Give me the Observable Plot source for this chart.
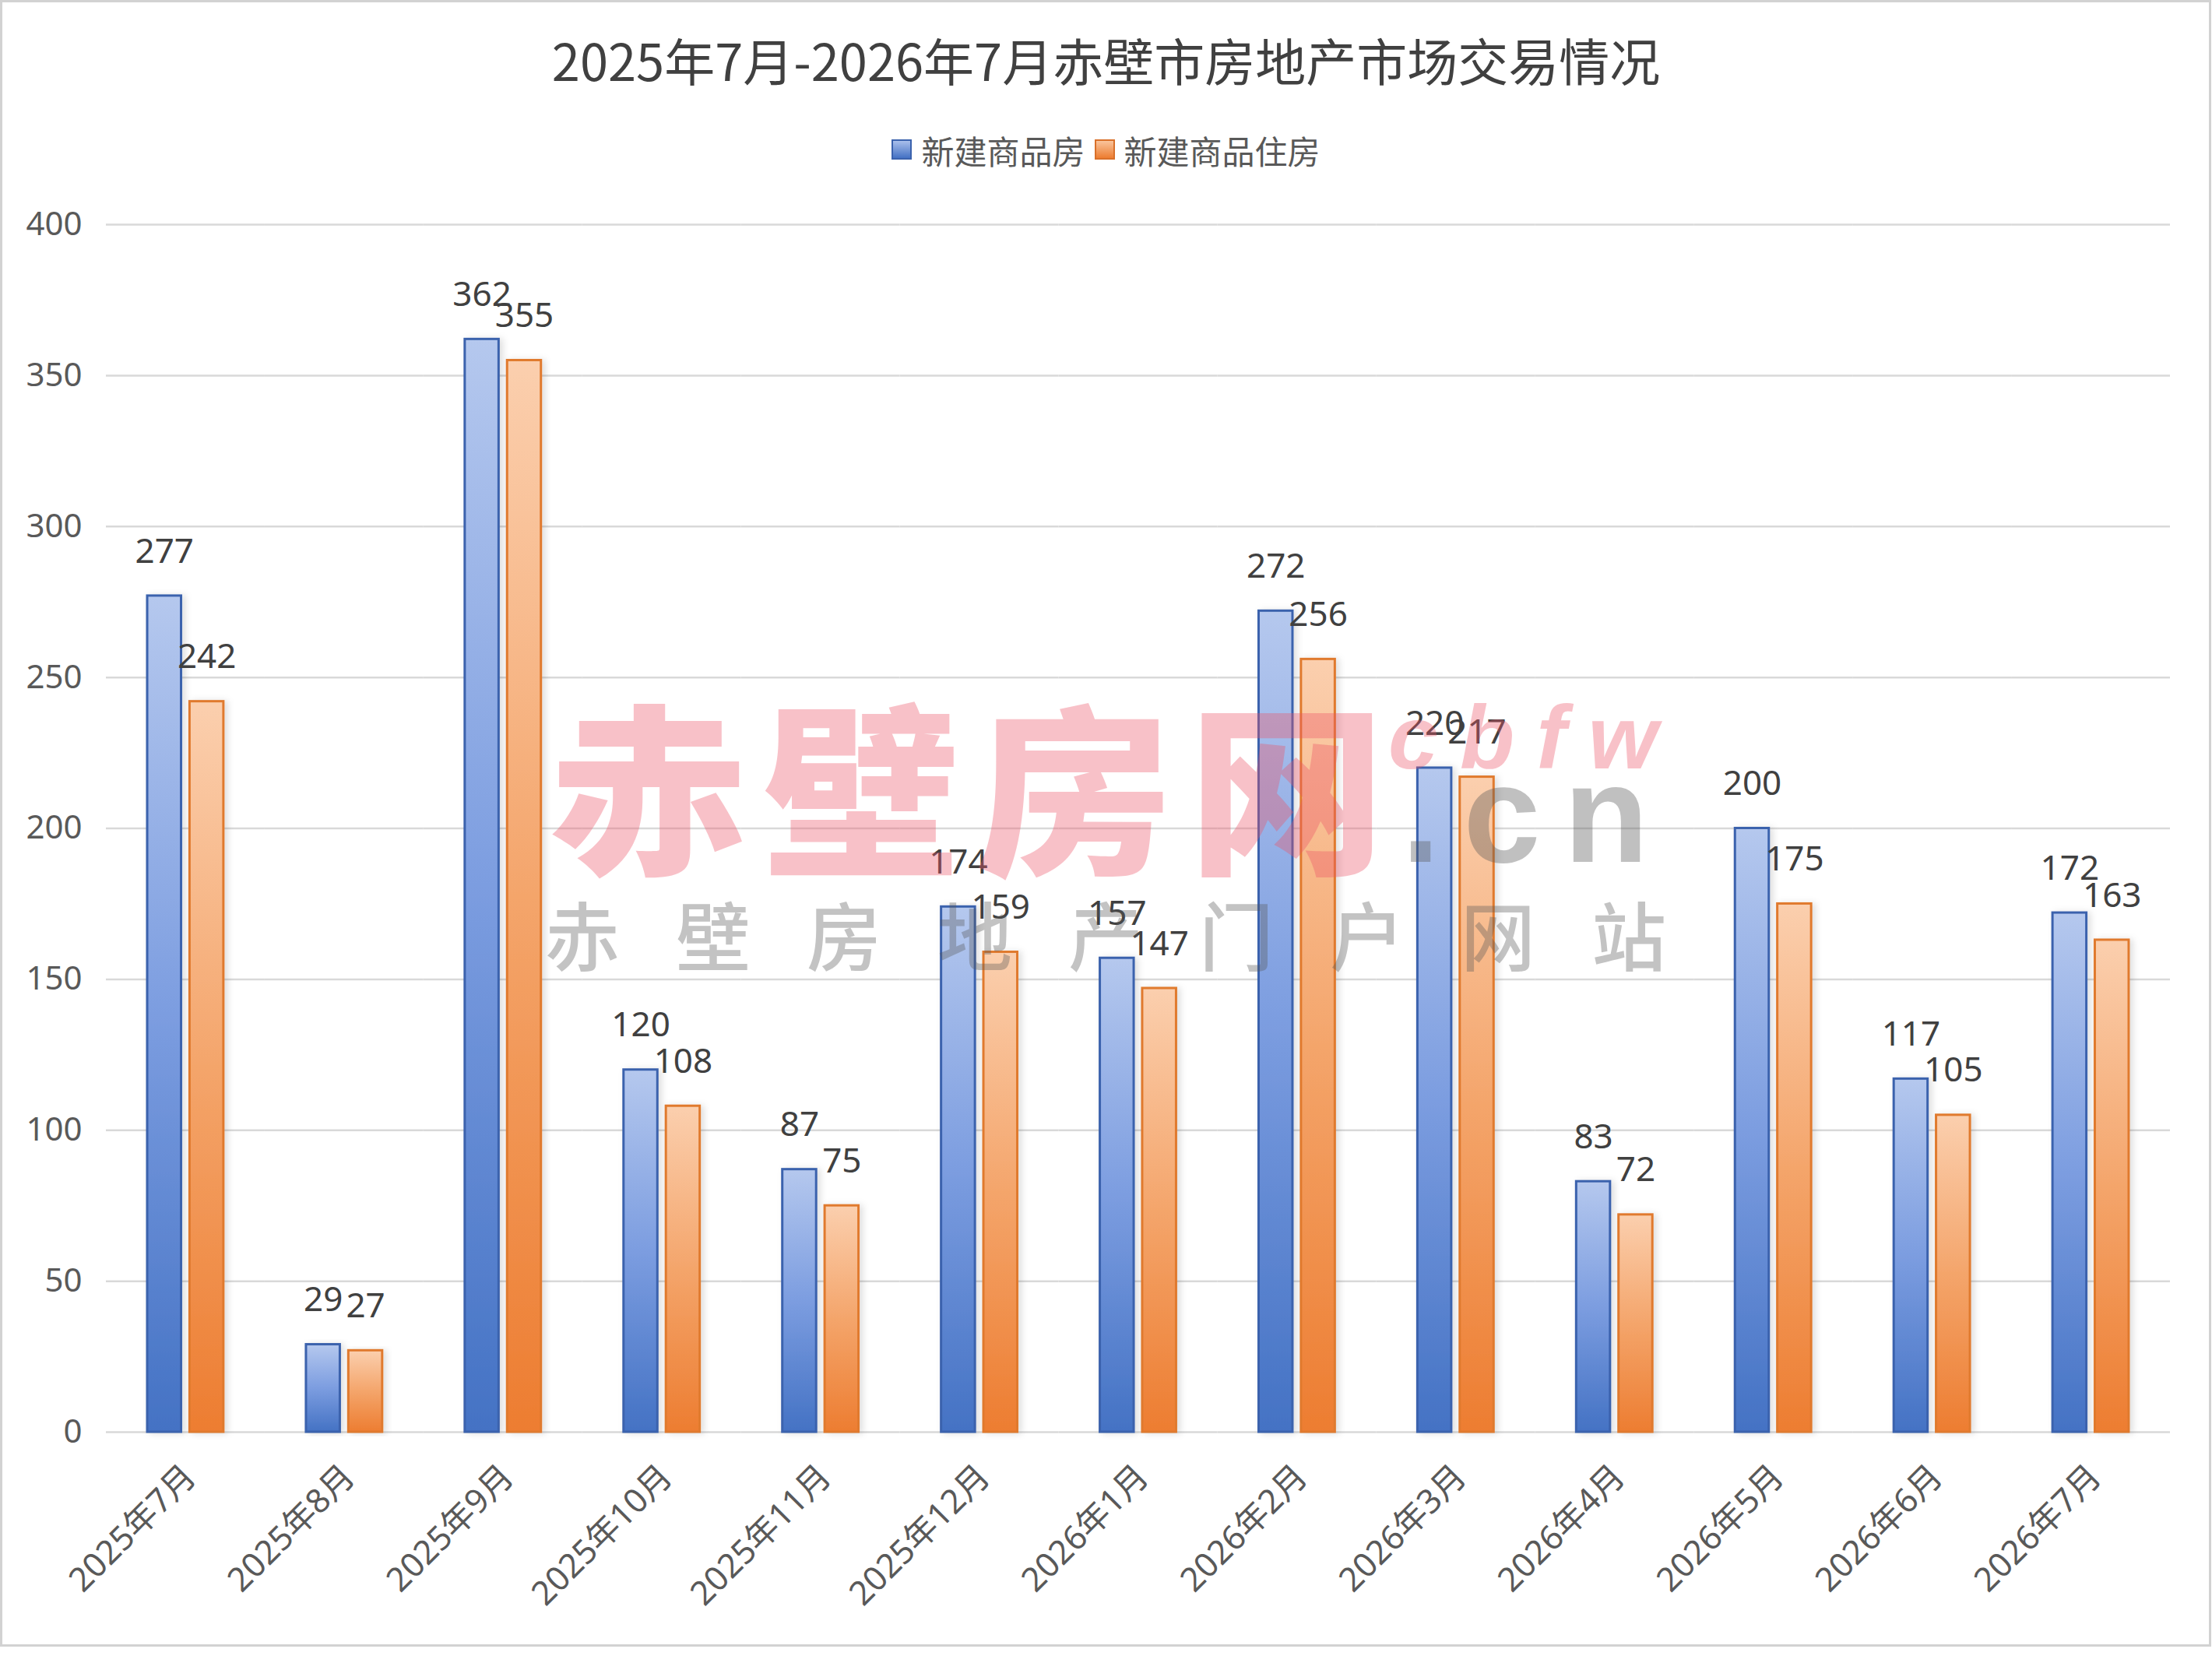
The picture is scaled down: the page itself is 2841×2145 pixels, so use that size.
<!DOCTYPE html>
<html>
<head>
<meta charset="utf-8">
<script src="https://cdn.jsdelivr.net/npm/d3@7"></script>
<script src="https://cdn.jsdelivr.net/npm/@observablehq/plot@0.6"></script>
<style>
  html, body { margin: 0; padding: 0; background: #fff; }
  body { width: 2841px; height: 2145px; position: relative; overflow: hidden;
         font-family: "Noto Sans", "Noto Sans CJK SC", sans-serif; }
  #frame { position: absolute; left: 0; top: 0; width: 2840px; height: 2115px;
           box-sizing: border-box; border: 3px solid #d2d2d2; }
  #title { position: absolute; left: 0; top: 33px; width: 2841px; text-align: center;
           font-size: 65px; line-height: 86px; color: #404040;
           font-family: "Noto Sans CJK SC", "Noto Sans", sans-serif; }
  #legend { position: absolute; left: 0; top: 163px; width: 2841px; height: 58px;
            display: flex; justify-content: center; align-items: center;
            font-size: 42px; color: #595959; font-family: "Noto Sans CJK SC", sans-serif; }
  #legend .item { display: flex; align-items: center; margin: 0 6px; }
  #legend .sw { width: 26px; height: 26px; box-sizing: border-box; margin-right: 12px; }
  #chart { position: absolute; left: 0; top: 230px; }
  .wm { position: absolute; white-space: nowrap; pointer-events: none; line-height: 1; }
  #wm1 { left: 706px; top: 885px; font-size: 235px; font-weight: 900; letter-spacing: 18px;
         transform: scale(1.08, 1); transform-origin: 0 0;
         color: rgba(236, 82, 102, 0.36); font-family: "Noto Sans CJK SC", sans-serif; }
  #wm2 { left: 1783px; top: 890px; font-size: 115px; font-weight: 700; font-style: italic;
         letter-spacing: 28px; color: rgba(236, 82, 102, 0.36); font-family: "Liberation Sans", sans-serif; }
  #wm3 { left: 1800px; top: 957px; font-size: 178px; font-weight: 700; letter-spacing: 30px;
         color: rgba(90, 90, 90, 0.38); font-family: "Liberation Sans", sans-serif; }
  #wm4 { left: 700px; top: 1150px; font-size: 96px; font-weight: 500; letter-spacing: 72px;
         color: rgba(90, 90, 90, 0.36); font-family: "Noto Sans CJK SC", sans-serif; }
</style>
</head>
<body>
<div id="frame"></div>
<svg width="0" height="0" style="position:absolute">
  <defs>
    <linearGradient id="gBlue" x1="0" y1="0" x2="0" y2="1">
      <stop offset="0" stop-color="#b5c8ee"/>
      <stop offset="0.5" stop-color="#7c9de0"/>
      <stop offset="1" stop-color="#4472c4"/>
    </linearGradient>
    <linearGradient id="gOrange" x1="0" y1="0" x2="0" y2="1">
      <stop offset="0" stop-color="#fbcfae"/>
      <stop offset="0.5" stop-color="#f4a56b"/>
      <stop offset="1" stop-color="#ed7d31"/>
    </linearGradient>
    <filter id="shadow" x="-30%" y="-5%" width="160%" height="110%">
      <feDropShadow dx="4" dy="1" stdDeviation="4" flood-color="#000" flood-opacity="0.13"/>
    </filter>
  </defs>
</svg>
<div id="title">2025年7月-2026年7月赤壁市房地产市场交易情况</div>
<div id="legend"></div>
<div id="chart"></div>
<div class="wm" id="wm1">赤壁房网</div>
<div class="wm" id="wm2">cbfw</div>
<div class="wm" id="wm3">.cn</div>
<div class="wm" id="wm4">赤壁房地产门户网站</div>
<script>
const months = ["2025年7月","2025年8月","2025年9月","2025年10月","2025年11月","2025年12月",
  "2026年1月","2026年2月","2026年3月","2026年4月","2026年5月","2026年6月","2026年7月"];
const seriesNames = ["新建商品房", "新建商品住房"];
const newCommercial = [277, 29, 362, 120, 87, 174, 157, 272, 220, 83, 200, 117, 172];
const newResidential = [242, 27, 355, 108, 75, 159, 147, 256, 217, 72, 175, 105, 163];
const yTicks = [0, 50, 100, 150, 200, 250, 300, 350, 400];

const seriesFill = ["url(#gBlue)", "url(#gOrange)"];
const seriesStroke = ["#3b62ad", "#e07a2e"];
const swatchCss = [
  "background: linear-gradient(#a9bfeb, #4472c4); border: 2px solid #3b62ad;",
  "background: linear-gradient(#f9c49c, #ed7d31); border: 2px solid #d9702a;"
];

const rows = months.flatMap((m, i) => [
  {month: m, series: seriesNames[0], value: newCommercial[i]},
  {month: m, series: seriesNames[1], value: newResidential[i]}
]);

// legend
const legend = document.getElementById("legend");
seriesNames.forEach((s, i) => {
  const it = document.createElement("div");
  it.className = "item";
  it.innerHTML = `<div class="sw" style="${swatchCss[i]}"></div><span>${s}</span>`;
  legend.appendChild(it);
});

const chart = Plot.plot({
  width: 2841,
  height: 1880,
  marginLeft: 136,
  marginRight: 54,
  marginTop: 58,
  marginBottom: 271,
  style: {fontSize: "42px", fontFamily: "'Noto Sans', 'Noto Sans CJK SC', sans-serif", color: "#595959", background: "transparent"},
  fx: {domain: months, padding: 0, round: false, label: null, axis: "bottom", tickRotate: -45, tickSize: 0, tickPadding: 50},
  x: {domain: seriesNames, paddingInner: 0.2, paddingOuter: 0.975, round: false, axis: null},
  y: {domain: [0, 400], ticks: yTicks, tickSize: 0, tickPadding: 31, label: null},
  marks: [
    Plot.ruleY(yTicks, {stroke: "#d9d9d9", strokeWidth: 2.5}),
    ...seriesNames.map((s, i) => Plot.barY(rows, {
      filter: d => d.series === s,
      fx: "month", x: "series", y: "value",
      fill: seriesFill[i], stroke: seriesStroke[i], strokeWidth: 3
    })),
    Plot.text(rows, {
      fx: "month", x: "series", y: "value",
      text: d => String(d.value), dy: -57, fontSize: 44, fill: "#404040"
    })
  ]
});
document.getElementById("chart").appendChild(chart);
d3.select(chart).selectAll('g[aria-label="bar"] rect').attr("filter", "url(#shadow)");
d3.select(chart).selectAll('g[aria-label^="fx-axis"]')
  .attr("font-size", 43)
  .attr("transform", function () { return (this.getAttribute("transform") || "") + " translate(6,0)"; });
</script>
</body>
</html>
